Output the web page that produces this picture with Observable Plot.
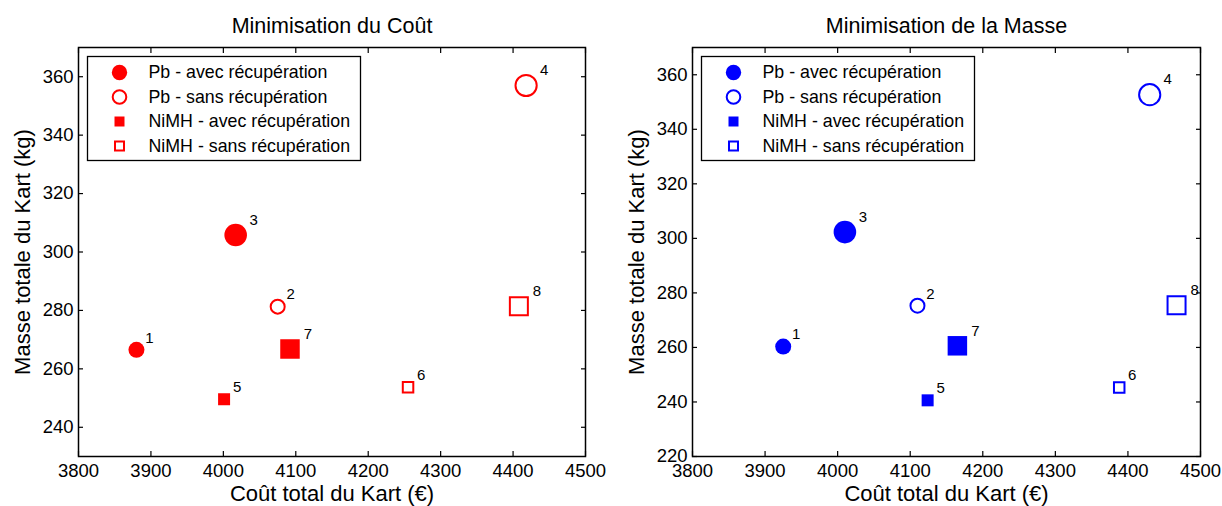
<!DOCTYPE html>
<html><head><meta charset="utf-8">
<script src="https://cdn.jsdelivr.net/npm/d3@7"></script>
<script src="https://cdn.jsdelivr.net/npm/@observablehq/plot@0.6"></script>
<style>
body{margin:0;background:#fff;}
#wrap{display:flex;width:1222px;height:506px;overflow:hidden;}
#wrap svg{display:block;}
</style></head><body><div id="wrap"></div>
<script>
// ---- data ----
const pointLabels = ["1","2","3","4","5","6","7","8"];
const batterie = ["Pb","Pb","Pb","Pb","NiMH","NiMH","NiMH","NiMH"];
const recuperation = ["avec","sans","avec","sans","avec","sans","avec","sans"];
const taille = ["petit","petit","grand","grand","petit","petit","grand","grand"];

const coutMinCout = [3880, 4075, 4017, 4418, 4001, 4255, 4092, 4408];
const masseMinCout = [266.5, 281.3, 305.8, 357, 249.6, 253.7, 266.8, 281.4];

const coutMinMasse = [3925, 4110, 4010, 4430, 4124, 4388, 4165, 4467];
const masseMinMasse = [260.3, 275.3, 302.3, 352.7, 240.6, 245.3, 260.6, 275.5];

const xTicks = [3800, 3900, 4000, 4100, 4200, 4300, 4400, 4500];
const yTicksCout = [240, 260, 280, 300, 320, 340, 360];
const yTicksMasse = [220, 240, 260, 280, 300, 320, 340, 360];

const legendLabels = ["Pb - avec récupération", "Pb - sans récupération", "NiMH - avec récupération", "NiMH - sans récupération"];
const legendBatterie = ["Pb", "Pb", "NiMH", "NiMH"];
const legendRecup = ["avec", "sans", "avec", "sans"];

const titles = ["Minimisation du Coût", "Minimisation de la Masse"];
const xLabel = "Coût total du Kart (€)";
const yLabel = "Masse totale du Kart (kg)";

// ---- styling helpers ----
const FONT = "'Liberation Sans', Arial, Helvetica, sans-serif";
function markerStyle(batt, recup, size, color) {
  const filled = recup === "avec";
  let r;
  if (batt === "Pb") {
    r = filled ? (size === "grand" ? 11.3 : 8) : (size === "grand" ? 10.6 : 7);
  } else {
    const side = filled ? (size === "grand" ? 19.5 : 12) : (size === "grand" ? 18 : 10.5);
    r = side / Math.sqrt(Math.PI);
  }
  return {
    symbol: batt === "Pb" ? "circle" : "square",
    r,
    fill: filled ? color : "white",
    stroke: filled ? "none" : color,
    strokeWidth: filled ? 0 : 2
  };
}

function panel(title, cout, masse, yDomain, yTicks, color, mLeft, mRight) {
  const rows = d3.range(cout.length).map(i => ({
    cout: cout[i], masse: masse[i], label: pointLabels[i],
    batterie: batterie[i], recup: recuperation[i], taille: taille[i]
  }));
  const W = 611, H = 506, mTop = 47, mBottom = 50;
  const innerW = W - mLeft - mRight, innerH = H - mTop - mBottom;
  const dotMarks = [];
  for (const b of ["Pb", "NiMH"]) for (const rc of ["avec", "sans"]) for (const s of ["petit", "grand"]) {
    const sub = rows.filter(d => d.batterie === b && d.recup === rc && d.taille === s);
    if (sub.length) dotMarks.push(Plot.dot(sub, {x: "cout", y: "masse", ...markerStyle(b, rc, s, color)}));
  }
  const legW = 273, legH = 104;
  const legendMarks = [
    Plot.frame({fill: "white", stroke: "black", strokeWidth: 1.3,
      insetLeft: 9, insetTop: 9, insetRight: innerW - 9 - legW, insetBottom: innerH - 9 - legH})
  ];
  legendLabels.forEach((lab, i) => {
    const st = markerStyle(legendBatterie[i], legendRecup[i], "petit", color);
    if (st.symbol === "circle") st.r = legendRecup[i] === "avec" ? 7.7 : 6.8;
    else st.r = (legendRecup[i] === "avec" ? 10 : 9) / Math.sqrt(Math.PI);
    legendMarks.push(Plot.dot([lab], {frameAnchor: "top-left", dx: 41, dy: 25 + i * 24.5, ...st}));
    legendMarks.push(Plot.text([lab], {text: d => d, frameAnchor: "top-left", dx: 70, dy: 25 + i * 24.5,
      textAnchor: "start", lineAnchor: "middle", fontSize: 17.8, fill: "black"}));
  });
  const fmt = d => String(d);
  return Plot.plot({
    width: W, height: H,
    marginLeft: mLeft, marginRight: mRight, marginTop: mTop, marginBottom: mBottom,
    style: {fontFamily: FONT, color: "black", background: "white"},
    x: {domain: [3800, 4500]},
    y: {domain: yDomain},
    marks: [
      Plot.axisX(xTicks, {anchor: "bottom", tickSize: -5, tickPadding: 12, fontSize: 18.5, label: null, strokeWidth: 1.2, tickFormat: fmt}),
      Plot.axisX(xTicks, {anchor: "top", tickSize: -5, tickFormat: () => "", label: null, strokeWidth: 1.2}),
      Plot.axisY(yTicks, {anchor: "left", tickSize: -5, tickPadding: 10, fontSize: 18.5, label: null, strokeWidth: 1.2, tickFormat: fmt}),
      Plot.axisY(yTicks, {anchor: "right", tickSize: -5, tickFormat: () => "", label: null, strokeWidth: 1.2}),
      Plot.frame({stroke: "black", strokeWidth: 1.5}),
      ...dotMarks,
      Plot.text(rows.filter(d => d.taille === "petit"), {x: "cout", y: "masse", text: "label", dx: 13, dy: -12, fontSize: 15, fill: "black"}),
      Plot.text(rows.filter(d => d.taille === "grand"), {x: "cout", y: "masse", text: "label", dx: 18, dy: -15, fontSize: 15, fill: "black"}),
      ...legendMarks,
      Plot.text([title], {text: d => d, frameAnchor: "top", dy: -21.5, textAnchor: "middle", lineAnchor: "middle", fontSize: 21.5, fill: "black"}),
      Plot.text([xLabel], {text: d => d, frameAnchor: "bottom", dy: 37.5, textAnchor: "middle", lineAnchor: "middle", fontSize: 22, fill: "black"}),
      Plot.text([yLabel], {text: d => d, frameAnchor: "left", dx: -56, rotate: -90, textAnchor: "middle", lineAnchor: "middle", fontSize: 22, fill: "black"})
    ]
  });
}

const wrap = document.getElementById("wrap");
wrap.appendChild(panel(titles[0], coutMinCout, masseMinCout, [230, 370], yTicksCout, "#ff0000", 78, 26));
wrap.appendChild(panel(titles[1], coutMinMasse, masseMinMasse, [220, 370], yTicksMasse, "#0000ff", 81, 22));
</script>
</body></html>
